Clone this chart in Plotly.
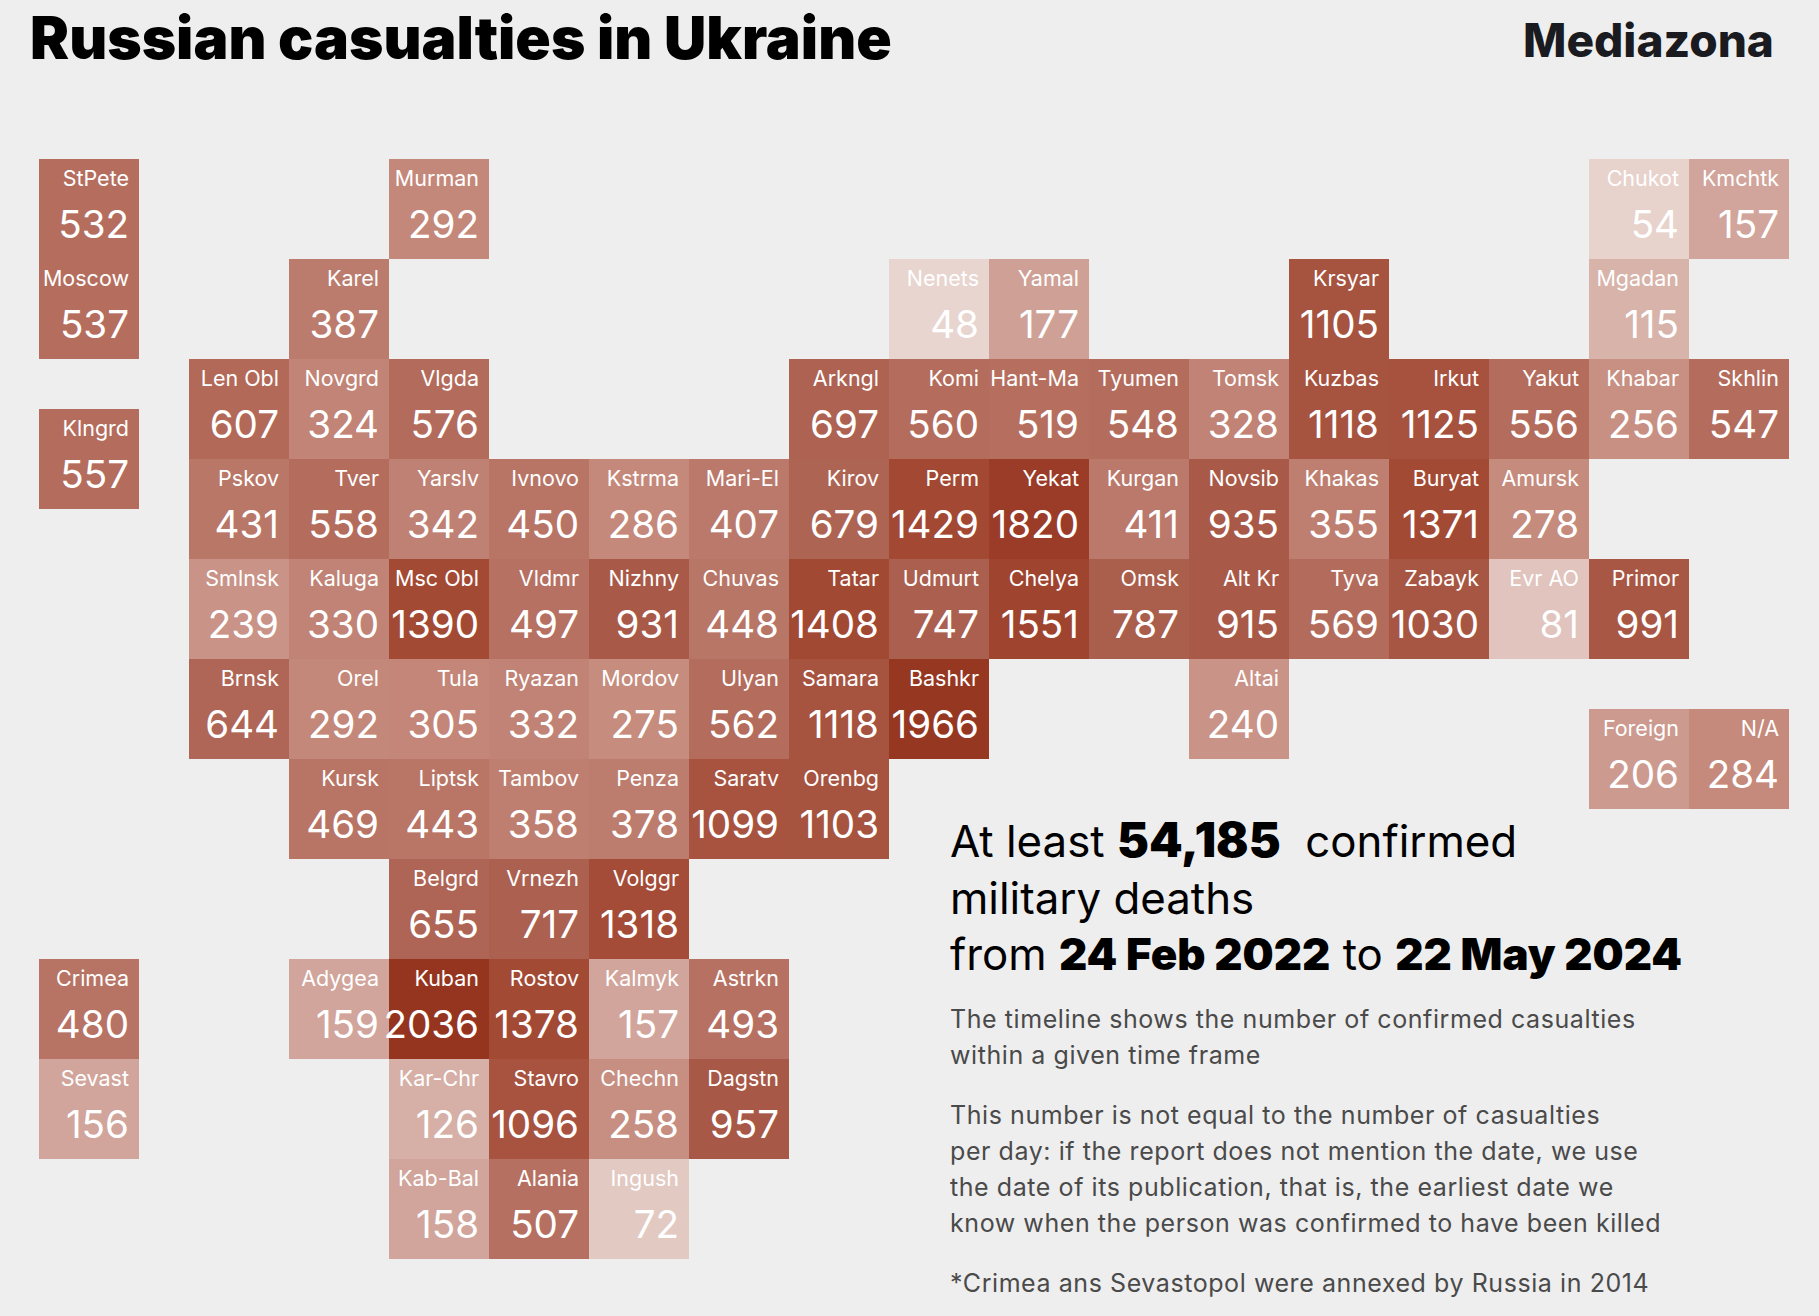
import plotly.graph_objects as go

# ---- data ----
names = ["StPete","Murman","Chukot","Kmchtk",
         "Moscow","Karel","Nenets","Yamal","Krsyar","Mgadan",
         "Len Obl","Novgrd","Vlgda","Arkngl","Komi","Hant-Ma","Tyumen","Tomsk","Kuzbas","Irkut","Yakut","Khabar","Skhlin",
         "Klngrd",
         "Pskov","Tver","Yarslv","Ivnovo","Kstrma","Mari-El","Kirov","Perm","Yekat","Kurgan","Novsib","Khakas","Buryat","Amursk",
         "Smlnsk","Kaluga","Msc Obl","Vldmr","Nizhny","Chuvas","Tatar","Udmurt","Chelya","Omsk","Alt Kr","Tyva","Zabayk","Evr AO","Primor",
         "Brnsk","Orel","Tula","Ryazan","Mordov","Ulyan","Samara","Bashkr","Altai",
         "Foreign","N/A",
         "Kursk","Liptsk","Tambov","Penza","Saratv","Orenbg",
         "Belgrd","Vrnezh","Volggr",
         "Crimea","Adygea","Kuban","Rostov","Kalmyk","Astrkn",
         "Sevast","Kar-Chr","Stavro","Chechn","Dagstn",
         "Kab-Bal","Alania","Ingush"]
values = [532,292,54,157,
          537,387,48,177,1105,115,
          607,324,576,697,560,519,548,328,1118,1125,556,256,547,
          557,
          431,558,342,450,286,407,679,1429,1820,411,935,355,1371,278,
          239,330,1390,497,931,448,1408,747,1551,787,915,569,1030,81,991,
          644,292,305,332,275,562,1118,1966,240,
          206,284,
          469,443,358,378,1099,1103,
          655,717,1318,
          480,159,2036,1378,157,493,
          156,126,1096,258,957,
          158,507,72]
grid_col = [-1.5,2,14,15,
            -1.5,1,7,8,11,14,
            0,1,2,6,7,8,9,10,11,12,13,14,15,
            -1.5,
            0,1,2,3,4,5,6,7,8,9,10,11,12,13,
            0,1,2,3,4,5,6,7,8,9,10,11,12,13,14,
            0,1,2,3,4,5,6,7,10,
            14,15,
            1,2,3,4,5,6,
            2,3,4,
            -1.5,1,2,3,4,5,
            -1.5,2,3,4,5,
            2,3,4]
grid_row = [0]*4 + [1]*6 + [2]*13 + [2.5] + [3]*14 + [4]*15 + [5]*9 + [5.5]*2 + [6]*6 + [7]*3 + [8]*6 + [9]*5 + [10]*3

title_text = "Russian casualties in Ukraine"
brand_text = "Mediazona"
heading_lines = [
    'At least <span style="font-weight:900;font-size:48px">54,185</span>  confirmed',
    'military deaths',
    'from <span style="font-weight:900">24 Feb 2022</span> to <span style="font-weight:900">22 May 2024</span>',
]
body_lines = [
    (1028, "The timeline shows the number of confirmed casualties"),
    (1064, "within a given time frame"),
    (1124, "This number is not equal to the number of casualties"),
    (1160, "per day: if the report does not mention the date, we use"),
    (1196, "the date of its publication, that is, the earliest date we"),
    (1232, "know when the person was confirmed to have been killed"),
    (1292, "*Crimea ans Sevastopol were annexed by Russia in 2014"),
]

# ---- styles ----
W, H = 1819, 1316
FONT = "Inter"
BG = "#eeeeee"
stops = [(48,"#e8d5cf"),(115,"#d8b3aa"),(157,"#d1a59b"),(292,"#c4887a"),(387,"#bb7b6d"),
         (532,"#b56e5e"),(747,"#ab5f4e"),(1378,"#a34a35"),(2036,"#953520")]
cmin, cmax = stops[0][0], stops[-1][0]
cscale = [[(v-cmin)/(cmax-cmin), c] for v, c in stops]

xs = [c + 0.5 for c in grid_col]
right = [c + 0.90 for c in grid_col]

fig = go.Figure()
fig.add_trace(go.Bar(
    x=xs, y=[1]*len(values), base=grid_row, width=1,
    marker=dict(color=values, colorscale=cscale, cmin=cmin, cmax=cmax, line=dict(width=0)),
    customdata=names,
    hovertemplate="%{customdata}: %{marker.color}<extra></extra>",
    showlegend=False,
))
fig.add_trace(go.Scatter(
    x=right, y=[r + 0.215 for r in grid_row], mode="text", text=names,
    textposition="middle left",
    textfont=dict(family=FONT, size=21.5, color="white"),
    hoverinfo="skip", showlegend=False,
))
fig.add_trace(go.Scatter(
    x=right, y=[r + 0.69 for r in grid_row], mode="text", text=[str(v) for v in values],
    textposition="middle left",
    textfont=dict(family=FONT, size=38.6, color="white"),
    hoverinfo="skip", showlegend=False,
))

annots = []
def line(txt, x, base, size, color, anchor="left", weight=None):
    annots.append(dict(
        text=txt, xref="paper", yref="paper", x=x/W, y=1-(base + size*0.26)/H,
        xanchor=anchor, yanchor="bottom", showarrow=False,
        font=dict(family=FONT, size=size, color=color, **({"weight": weight} if weight else {})),
        align=anchor, borderpad=0,
    ))

line(brand_text, 1775, 57, 46, "#1a1b20", anchor="right", weight=800)
for base, txt in zip([859, 915, 971], heading_lines):
    line(txt, 949, base, 43.8, "#000000")
for base, txt in body_lines:
    line('<span style="letter-spacing:0.57px">%s</span>' % txt, 949, base, 25, "#4a4a4a")

fig.update_layout(
    width=W, height=H, margin=dict(l=0, r=0, t=0, b=0, pad=0),
    paper_bgcolor=BG, plot_bgcolor=BG, barmode="overlay", showlegend=False,
    title=dict(text=title_text, x=30/W, xanchor="left", xref="paper",
               y=1-(44+15)/H, yanchor="bottom", yref="paper",
               font=dict(family=FONT, size=58.6, color="#000000", weight=900)),
    xaxis=dict(range=[-1.89, 16.30], visible=False, fixedrange=True),
    yaxis=dict(range=[11.57, -1.59], visible=False, fixedrange=True),
    annotations=annots,
)

fig.write_html("out.html", post_script="document.body.style.margin='0';document.documentElement.style.background='%s';" % BG,
               config={"displayModeBar": False})
